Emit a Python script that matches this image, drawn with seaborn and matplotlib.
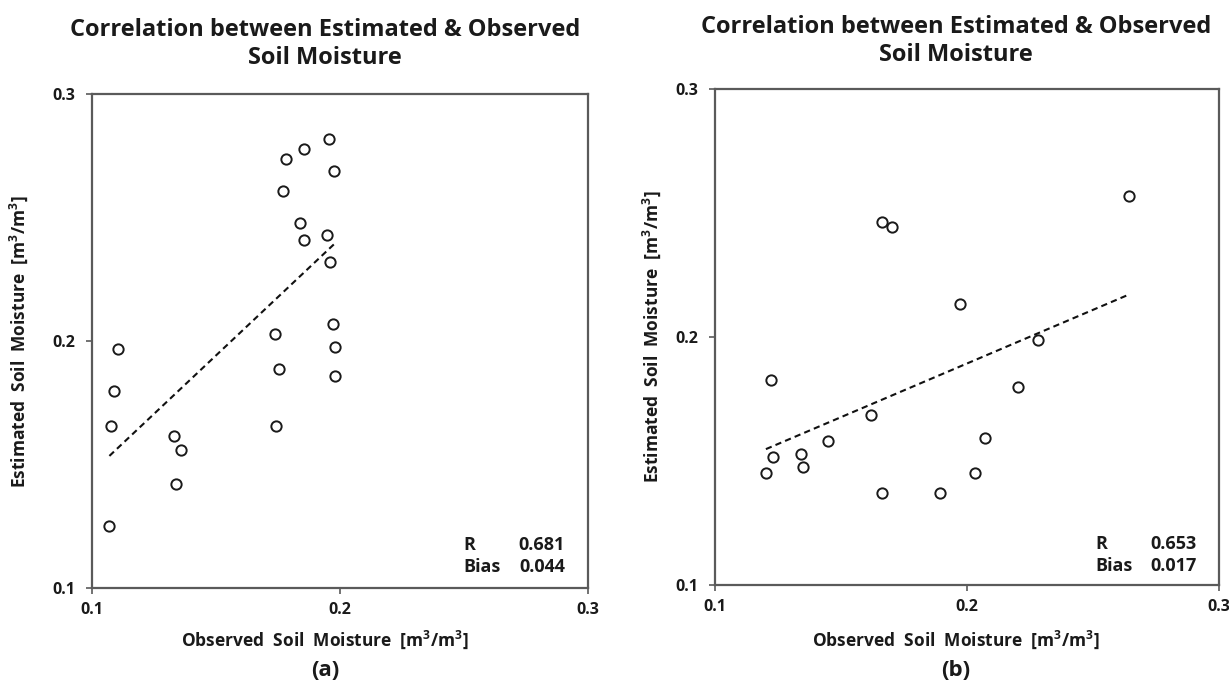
import matplotlib
matplotlib.use("Agg")
import matplotlib.pyplot as plt
import seaborn as sns
import pandas as pd

# ---- data ----
obs_a = [0.1954, 0.1856, 0.1782, 0.1977, 0.1770, 0.1837, 0.1855, 0.1947, 0.1960, 0.1970, 0.1738,
         0.1103, 0.1088, 0.1077, 0.1069, 0.1329, 0.1359, 0.1337, 0.1741, 0.1752, 0.1980, 0.1978]
est_a = [0.2820, 0.2779, 0.2738, 0.2688, 0.2610, 0.2478, 0.2410, 0.2429, 0.2321, 0.2069, 0.2030,
         0.1969, 0.1799, 0.1658, 0.1251, 0.1617, 0.1559, 0.1421, 0.1658, 0.1889, 0.1978, 0.1858]

obs_b = [0.2642, 0.1661, 0.1701, 0.1971, 0.2282, 0.1221, 0.2201, 0.1621, 0.1450, 0.2072, 0.1231,
         0.1340, 0.1351, 0.1202, 0.2031, 0.1661, 0.1891]
est_b = [0.2569, 0.2463, 0.2444, 0.2134, 0.1989, 0.1826, 0.1800, 0.1685, 0.1582, 0.1594, 0.1516,
         0.1530, 0.1474, 0.1450, 0.1452, 0.1369, 0.1372]

stats_a = {"R": "0.681", "Bias": "0.044"}
stats_b = {"R": "0.653", "Bias": "0.017"}

ticks = [0.1, 0.2, 0.3]
tick_labels = ["0.1", "0.2", "0.3"]
title = "Correlation between Estimated & Observed\nSoil Moisture"
xlabel = "Observed  Soil  Moisture  [m$^3$/m$^3$]"
ylabel = "Estimated  Soil  Moisture  [m$^3$/m$^3$]"
panel_labels = ["(a)", "(b)"]

sns.set_style("white")
plt.rcParams["font.family"] = ["Open Sans", "DejaVu Sans"]
plt.rcParams["mathtext.fontset"] = "custom"
plt.rcParams["mathtext.rm"] = "Open Sans:bold"
plt.rcParams["mathtext.it"] = "Open Sans:bold"
plt.rcParams["mathtext.bf"] = "Open Sans:bold"

W, H = 1229, 688
fig = plt.figure(figsize=(W / 100, H / 100), dpi=100)

# axes boxes in pixels: (left, top, right, bottom)
boxes = [(92.3, 94.3, 588.0, 588.3), (715.0, 89.0, 1219.0, 585.0)]
datasets = [(obs_a, est_a, stats_a), (obs_b, est_b, stats_b)]
title_cx = [325, 956]
title_top = [18, 15]
ylab_x = [30, 663]
ann = [dict(rx=463, vx=565, y1=545, y2=567), dict(rx=1095, vx=1197, y1=544, y2=566)]

spine_col = "#5a5a5a"
txt_col = "#1a1a1a"

for i, ((l, t, r, b), (xo, ye, st)) in enumerate(zip(boxes, datasets)):
    ax = fig.add_axes([l / W, 1 - b / H, (r - l) / W, (b - t) / H])
    df = pd.DataFrame({"obs": xo, "est": ye})
    sns.regplot(data=df, x="obs", y="est", ax=ax, scatter=False, ci=None, truncate=True,
                line_kws=dict(color="#111111", lw=1.5, linestyle=(0, (3, 2))))
    sns.scatterplot(data=df, x="obs", y="est", ax=ax, marker="o", s=55,
                    facecolor="white", edgecolor=txt_col, linewidth=1.4, zorder=3)
    ax.set_xlim(0.1, 0.3)
    ax.set_ylim(0.1, 0.3)
    ax.set_xticks(ticks)
    ax.set_yticks(ticks)
    ax.set_xticklabels(tick_labels, fontsize=11.5, fontweight="bold")
    ax.set_yticklabels(tick_labels, fontsize=11.5, fontweight="bold")
    ax.tick_params(axis="both", direction="out", length=4, width=1.2, color=spine_col,
                   colors=txt_col, left=True, bottom=True)
    ax.tick_params(axis="y", pad=8)
    ax.tick_params(axis="x", pad=6)
    for sp in ax.spines.values():
        sp.set_visible(True)
        sp.set_color(spine_col)
        sp.set_linewidth(1.6)
    aw = r - l
    ah = b - t
    ax.set_xlabel(xlabel, fontsize=12.5, fontweight="bold", color=txt_col)
    ax.set_ylabel(ylabel, fontsize=12.5, fontweight="bold", color=txt_col)
    ax.xaxis.set_label_coords((title_cx[i] - l) / aw, -(629 - b) / ah)
    ax.yaxis.set_label_coords(-(l - ylab_x[i]) / aw, 0.5)

    a = ann[i]
    for key, yy in (("R", a["y1"]), ("Bias", a["y2"])):
        ax.text((a["rx"] - l) / aw, (b - yy) / ah, key, transform=ax.transAxes,
                ha="left", va="center", fontsize=13, fontweight="bold", color=txt_col)
        ax.text((a["vx"] - l) / aw, (b - yy) / ah, st[key], transform=ax.transAxes,
                ha="right", va="center", fontsize=13, fontweight="bold", color=txt_col)

    fig.text(title_cx[i] / W, 1 - title_top[i] / H, title, ha="center", va="top",
             fontsize=17, fontweight="bold", color=txt_col, linespacing=1.22)
    fig.text(title_cx[i] / W, 1 - 671 / H, panel_labels[i], ha="center", va="center",
             fontsize=16, fontweight="bold", color=txt_col)

fig.savefig("out.png", dpi=100, facecolor="white")
